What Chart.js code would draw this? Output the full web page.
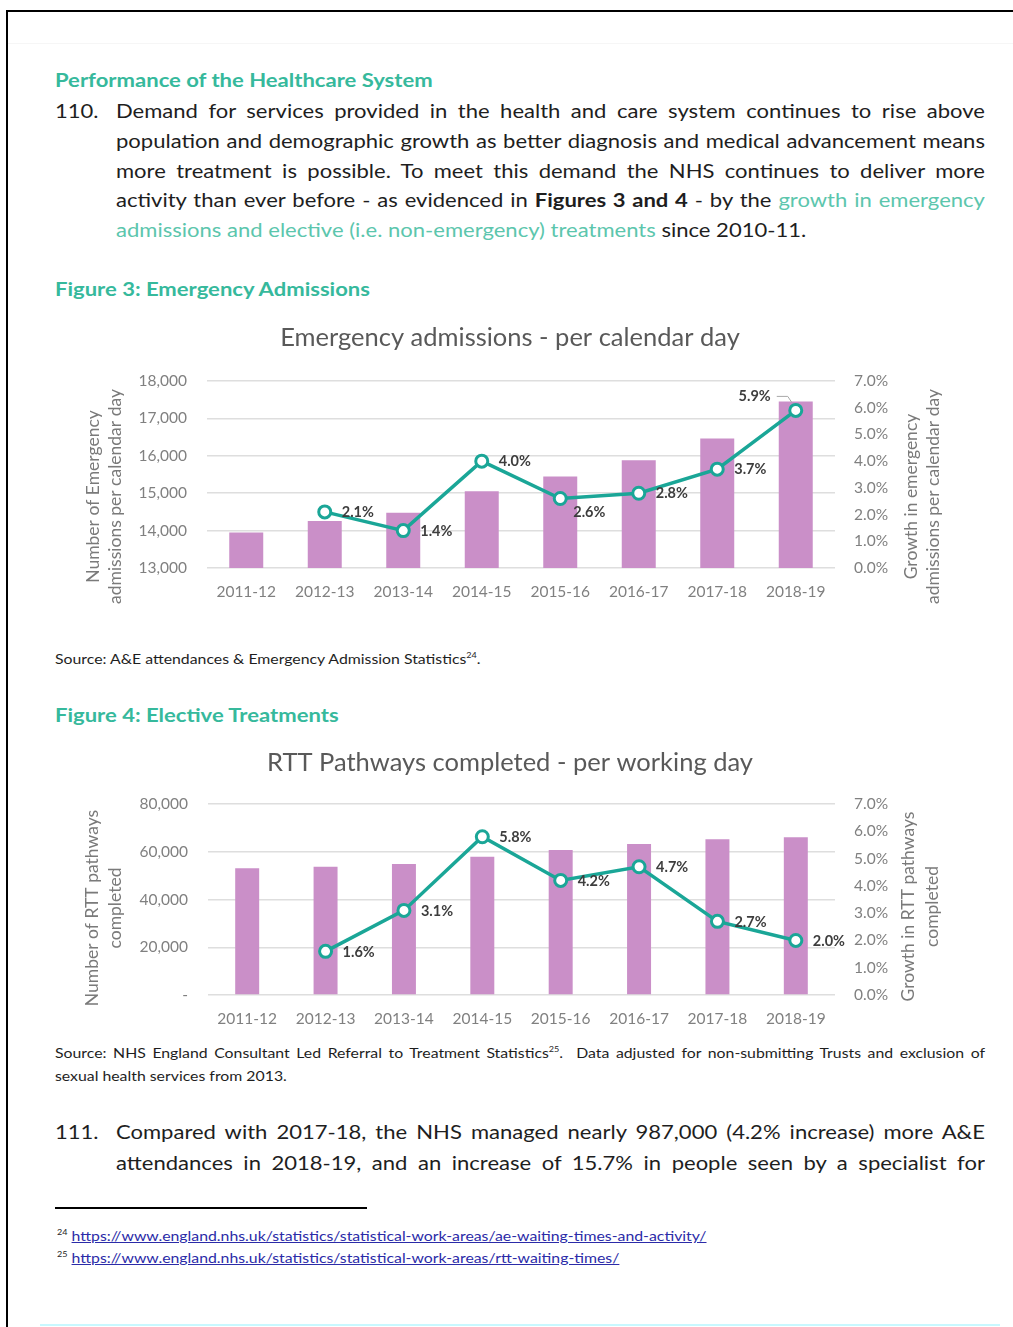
<!DOCTYPE html>
<html>
<head>
<meta charset="utf-8">
<script src="https://cdn.jsdelivr.net/npm/chart.js@4.4.1/dist/chart.umd.min.js"></script>
<style>
html,body{margin:0;padding:0;background:#fff;}
body{width:1013px;height:1327px;position:relative;overflow:hidden;font-family:Lato,"Open Sans",sans-serif;color:#1e1e1e;}
.abs{position:absolute;white-space:nowrap;}
.sx{transform:scaleX(1.13);transform-origin:0 50%;}
.h{color:#36b99c;font-weight:bold;font-size:19.5px;line-height:24px;}
.p{font-size:19.5px;line-height:30px;height:30px;}
.j{text-align:justify;text-align-last:justify;}
.teal{color:#5cc6ad;}
.src{font-size:14px;line-height:20px;}
.fn{font-size:14px;line-height:18px;}
.fn a{color:#2b2ba8;text-decoration:underline;}
sup{font-size:8px;line-height:0;vertical-align:6px;}
canvas{position:absolute;}
</style>
</head>
<body>
<div class="abs" style="left:6px;top:10px;width:1007px;height:2px;background:#000;"></div>
<div class="abs" style="left:6px;top:10px;width:2px;height:1317px;background:#000;"></div>
<div class="abs" style="left:8px;top:43px;width:1005px;height:1px;background:#f6f6f6;"></div>
<div class="abs" style="left:40px;top:1324px;width:960px;height:2px;background:#c8f8ff;"></div>

<div class="abs h sx" style="left:55px;top:68px;">Performance of the Healthcare System</div>
<div class="abs p sx" style="left:55px;top:96px;">110.</div>
<div class="abs p j sx" style="left:116px;top:96px;width:769px;">Demand for services provided in the health and care system continues to rise above</div>
<div class="abs p j sx" style="left:116px;top:126px;width:769px;">population and demographic growth as better diagnosis and medical advancement means</div>
<div class="abs p j sx" style="left:116px;top:156px;width:769px;">more treatment is possible. To meet this demand the NHS continues to deliver more</div>
<div class="abs p j sx" style="left:116px;top:185px;width:769px;">activity than ever before - as evidenced in <b>Figures 3 and 4</b> - by the <span class="teal">growth in emergency</span></div>
<div class="abs p sx" style="left:116px;top:215px;"><span class="teal">admissions and elective (i.e. non-emergency) treatments</span> since 2010-11.</div>

<div class="abs h sx" style="left:55px;top:277px;">Figure 3: Emergency Admissions</div>
<canvas id="c1" width="920" height="320" style="left:50px;top:300px;"></canvas>
<div class="abs src sx" style="left:55px;top:649px;">Source: A&amp;E attendances &amp; Emergency Admission Statistics<sup>24</sup>.</div>

<div class="abs h sx" style="left:55px;top:703px;">Figure 4: Elective Treatments</div>
<canvas id="c2" width="920" height="315" style="left:50px;top:725px;"></canvas>
<div class="abs src j sx" style="left:55px;top:1043px;width:823px;">Source: NHS England Consultant Led Referral to Treatment Statistics<sup>25</sup>. &nbsp;Data adjusted for non-submitting Trusts and exclusion of</div>
<div class="abs src sx" style="left:55px;top:1066px;">sexual health services from 2013.</div>

<div class="abs p sx" style="left:55px;top:1117px;">111.</div>
<div class="abs p j sx" style="left:116px;top:1117px;width:769px;">Compared with 2017-18, the NHS managed nearly 987,000 (4.2% increase) more A&amp;E</div>
<div class="abs p j sx" style="left:116px;top:1148px;width:769px;">attendances in 2018-19, and an increase of 15.7% in people seen by a specialist for</div>

<div class="abs" style="left:55px;top:1207px;width:312px;height:2px;background:#000;"></div>
<div class="abs fn sx" style="left:57px;top:1227px;"><sup>24</sup> <a>https://www.england.nhs.uk/statistics/statistical-work-areas/ae-waiting-times-and-activity/</a></div>
<div class="abs fn sx" style="left:57px;top:1249px;"><sup>25</sup> <a>https://www.england.nhs.uk/statistics/statistical-work-areas/rtt-waiting-times/</a></div>

<script>
// ---- data ----
const categories = ['2011-12','2012-13','2013-14','2014-15','2015-16','2016-17','2017-18','2018-19'];
const emergencyAdmissions = [13950, 14260, 14480, 15050, 15450, 15880, 16460, 17450];
const emergencyGrowth = [null, 2.1, 1.4, 4.0, 2.6, 2.8, 3.7, 5.9];
const rttPathways = [53100, 53700, 54900, 57900, 60700, 63300, 65200, 66100];
const rttGrowth = [null, 1.6, 3.1, 5.8, 4.2, 4.7, 2.7, 2.0];
const emergencyTitle = 'Emergency admissions - per calendar day';
const rttTitle = 'RTT Pathways completed - per working day';
const emergencyLeftTitle = ['Number of Emergency', 'admissions per calendar day'];
const emergencyRightTitle = ['Growth in emergency', 'admissions per calendar day'];
const rttLeftTitle = ['Number of RTT pathways', 'completed'];
const rttRightTitle = ['Growth in RTT pathways', 'completed'];

// ---- style ----
const BAR = '#ca8fc8';
const TEAL = '#1aa697';
const TICK = '#808080';
const GRID = '#dedede';
const FONT = 'Lato';

const annotate = {
  id: 'annotate',
  afterDatasetsDraw(chart, args, opts) {
    const ctx = chart.ctx;
    const meta = chart.getDatasetMeta(opts.lineIndex);
    const ds = chart.data.datasets[opts.lineIndex];
    ctx.save();
    ctx.font = 'bold 14.5px ' + FONT;
    ctx.fillStyle = '#3d3d3d';
    ctx.textBaseline = 'middle';
    meta.data.forEach((pt, i) => {
      const v = ds.data[i];
      if (v == null) return;
      const txt = v.toFixed(1) + '%';
      const place = (opts.placement && opts.placement[i]) || 'right';
      if (place === 'right') {
        ctx.textAlign = 'left';
        ctx.fillText(txt, pt.x + 17, pt.y + 0.5);
      } else if (place === 'rightBelow') {
        ctx.textAlign = 'left';
        ctx.fillText(txt, pt.x + 13, pt.y + 14);
      } else if (place === 'leftAbove') {
        ctx.textAlign = 'right';
        ctx.fillText(txt, pt.x - 25, pt.y - 14);
        ctx.strokeStyle = '#a8a8a8';
        ctx.lineWidth = 1;
        ctx.beginPath();
        ctx.moveTo(pt.x - 19, pt.y - 14);
        ctx.lineTo(pt.x - 8, pt.y - 14);
        ctx.lineTo(pt.x - 4, pt.y - 8);
        ctx.stroke();
      }
    });
    ctx.restore();
  },
  afterDraw(chart, args, opts) {
    const ctx = chart.ctx;
    const a = chart.chartArea;
    const cy0 = (a.top + a.bottom) / 2;
    ctx.save();
    ctx.font = '17.5px ' + FONT;
    ctx.fillStyle = '#7a7a7a';
    ctx.textAlign = 'center';
    ctx.textBaseline = 'middle';
    (opts.axisTitles || []).forEach(t => {
      const base = t.side === 'left' ? a.left : a.right;
      t.lines.forEach((line, k) => {
        ctx.save();
        ctx.translate(base + t.offsets[k], cy0 + t.dy);
        ctx.rotate(-Math.PI / 2);
        ctx.fillText(line, 0, 0);
        ctx.restore();
      });
    });
    ctx.restore();
  }
};

function makeChart(id, cfg) {
  return new Chart(document.getElementById(id), {
    data: {
      labels: categories,
      datasets: [
        { type: 'line', data: cfg.growth, yAxisID: 'y1', order: 0,
          borderColor: TEAL, borderWidth: 3.5, tension: 0,
          pointRadius: 6, pointBorderWidth: 3, pointBackgroundColor: '#ffffff', pointBorderColor: TEAL },
        { type: 'bar', data: cfg.bars, yAxisID: 'y', order: 1,
          backgroundColor: BAR, categoryPercentage: 1, barPercentage: cfg.barPct }
      ]
    },
    options: {
      responsive: false,
      animation: false,
      layout: { padding: { top: 18, bottom: cfg.padBottom, left: 0, right: 0 } },
      plugins: {
        legend: { display: false },
        tooltip: { enabled: false },
        title: { display: true, text: cfg.title, color: '#595959',
                 font: { family: FONT, size: 25.5, weight: 'normal', lineHeight: 1.13 },
                 padding: { top: 5.6, bottom: cfg.titleGap } },
        annotate: { lineIndex: 0, placement: cfg.placement, axisTitles: cfg.axisTitles }
      },
      scales: {
        x: {
          grid: { display: false, drawTicks: false },
          border: { display: false },
          ticks: { color: TICK, font: { family: FONT, size: 15.5 }, padding: 15, maxRotation: 0 },
          afterFit: s => { s.height = 40; }
        },
        y: {
          position: 'left', min: cfg.yMin, max: cfg.yMax,
          grid: { color: GRID, lineWidth: 1.5, drawTicks: false },
          border: { display: false },
          ticks: { stepSize: cfg.yStep, color: TICK, font: { family: FONT, size: 15.5 }, padding: 20,
                   callback: v => v === 0 ? '-' : v.toLocaleString('en-US') },
          afterFit: s => { s.width = cfg.leftWidth; }
        },
        y1: {
          position: 'right', min: 0, max: 7,
          grid: { display: false, drawTicks: false },
          border: { display: false },
          ticks: { stepSize: 1, color: TICK, font: { family: FONT, size: 15.5 }, padding: 19,
                   callback: v => v.toFixed(1) + '%' },
          afterFit: s => { s.width = 135; }
        }
      }
    },
    plugins: [annotate]
  });
}

makeChart('c1', {
  bars: emergencyAdmissions, growth: emergencyGrowth, title: emergencyTitle,
  yMin: 13000, yMax: 18000, yStep: 1000, barPct: 0.433,
  leftWidth: 157, padBottom: 12, titleGap: 28.6,
  placement: [null, 'right', 'right', 'right', 'rightBelow', 'right', 'right', 'leftAbove'],
  axisTitles: [
    { side: 'left', lines: emergencyLeftTitle, offsets: [-114, -92], dy: 22 },
    { side: 'right', lines: emergencyRightTitle, offsets: [76, 98], dy: 22 }
  ]
});

makeChart('c2', {
  bars: rttPathways, growth: rttGrowth, title: rttTitle,
  yMin: 0, yMax: 80000, yStep: 20000, barPct: 0.306,
  leftWidth: 158, padBottom: 5, titleGap: 26.6,
  placement: [null, 'right', 'right', 'right', 'right', 'right', 'right', 'right'],
  axisTitles: [
    { side: 'left', lines: rttLeftTitle, offsets: [-116, -93], dy: 8.5 },
    { side: 'right', lines: rttRightTitle, offsets: [73, 97], dy: 7 }
  ]
});
</script>
</body>
</html>
